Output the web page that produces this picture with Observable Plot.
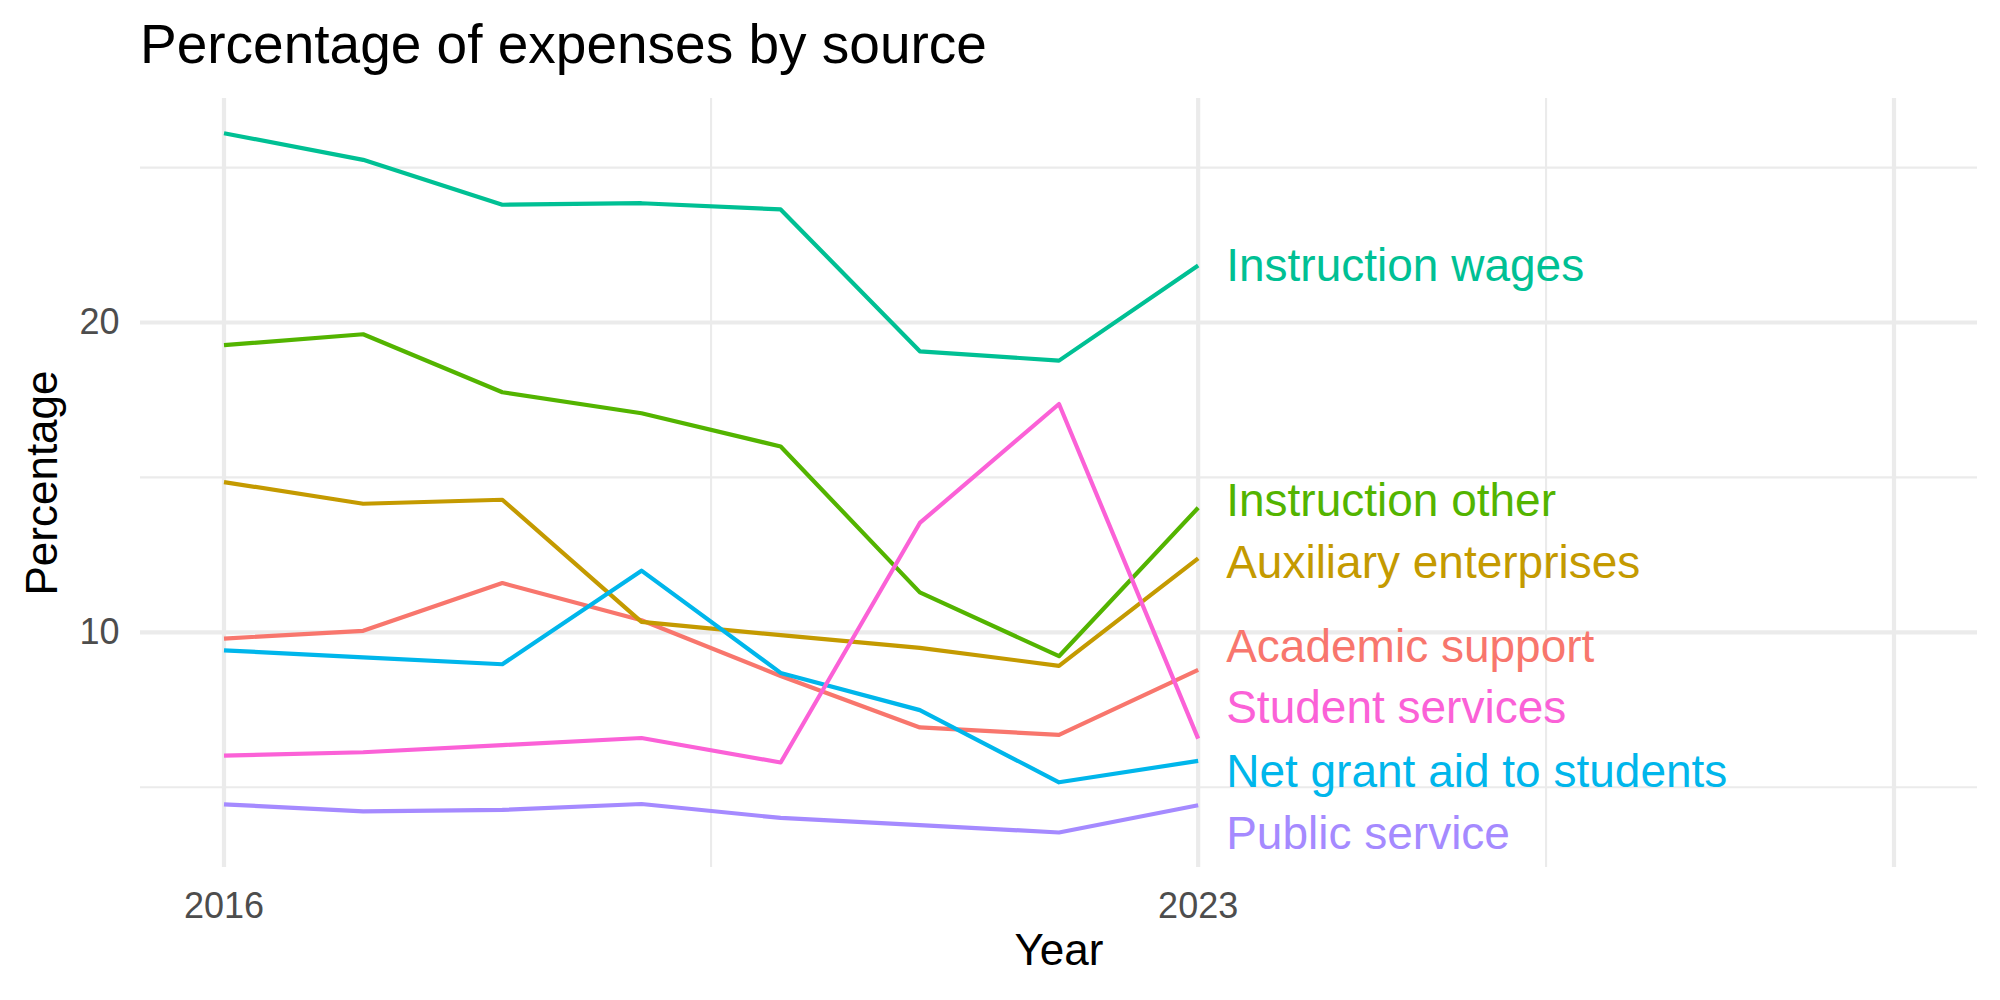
<!DOCTYPE html>
<html>
<head>
<meta charset="utf-8">
<script src="https://cdn.jsdelivr.net/npm/d3@7"></script>
<script src="https://cdn.jsdelivr.net/npm/@observablehq/plot@0.6"></script>
<style>
  html, body { margin: 0; padding: 0; background: #ffffff; }
  #wrap { width: 2000px; height: 1000px; position: relative; overflow: hidden; font-family: "Liberation Sans", Arial, sans-serif; }
  #title { position: absolute; left: 140px; top: 17px; font-size: 55px; line-height: 55px; color: #000; white-space: nowrap; }
  #chart { position: absolute; left: 0; top: 80px; }
</style>
</head>
<body>
<div id="wrap">
  <div id="title">Percentage of expenses by source</div>
  <div id="chart"></div>
</div>
<script>
// ---- data ----
const years = [2016, 2017, 2018, 2019, 2020, 2021, 2022, 2023];
const categories = ["Academic support", "Auxiliary enterprises", "Instruction other", "Instruction wages", "Net grant aid to students", "Public service", "Student services"];
const academicSupport      = [9.80, 10.05, 11.59, 10.39, 8.59, 6.93, 6.69, 8.79];
const auxiliaryEnterprises = [14.85, 14.15, 14.28, 10.34, 9.91, 9.50, 8.92, 12.39];
const instructionOther     = [19.27, 19.62, 17.75, 17.07, 16.00, 11.29, 9.23, 14.02];
const instructionWages     = [26.11, 25.25, 23.80, 23.85, 23.65, 19.07, 18.77, 21.84];
const netGrantAid          = [9.42, 9.19, 8.97, 11.99, 8.69, 7.49, 5.16, 5.85];
const publicService        = [4.45, 4.22, 4.27, 4.46, 4.01, 3.78, 3.54, 4.42];
const studentServices      = [6.02, 6.13, 6.36, 6.59, 5.80, 13.53, 17.37, 6.57];
// label positions (repelled) at the last year
const labelYear = 2023;
const labelY = [9.51, 12.22, 14.23, 21.80, 5.47, 3.47, 7.54];
const colors = ["#F8766D", "#C49A00", "#53B400", "#00C094", "#00B6EB", "#A58AFF", "#FB61D7"];
// axes
const xDomain = [2015.4, 2028.6];
const yDomain = [2.41, 27.23];
const xTicks = [2016, 2023];
const xMajorGrid = [2016, 2023, 2028];
const xMinorGrid = [2019.5, 2025.5];
const yTicks = [10, 20];
const yMinorGrid = [5, 15, 25];

// ---- build table ----
const seriesValues = [academicSupport, auxiliaryEnterprises, instructionOther, instructionWages, netGrantAid, publicService, studentServices];
const rows = [];
categories.forEach((c, k) => {
  years.forEach((yr, i) => rows.push({ year: yr, value: seriesValues[k][i], source: c }));
});
const labels = categories.map((c, k) => ({ source: c, year: labelYear, y: labelY[k] }));

const grid = "#EBEBEB";
const font = "'Liberation Sans', Arial, sans-serif";

const chart = Plot.plot({
  width: 2000,
  height: 920,
  marginTop: 18,
  marginBottom: 133,
  marginLeft: 140,
  marginRight: 23,
  style: { fontFamily: font, background: "#ffffff" },
  x: { domain: xDomain, axis: null },
  y: { domain: yDomain, axis: null },
  color: { domain: categories, range: colors },
  marks: [
    Plot.gridX(xMinorGrid, { stroke: grid, strokeOpacity: 1, strokeWidth: 2.1 }),
    Plot.gridY(yMinorGrid, { stroke: grid, strokeOpacity: 1, strokeWidth: 2.1 }),
    Plot.gridX(xMajorGrid, { stroke: grid, strokeOpacity: 1, strokeWidth: 4.2 }),
    Plot.gridY(yTicks, { stroke: grid, strokeOpacity: 1, strokeWidth: 4.2 }),
    Plot.axisX(xTicks, { tickSize: 0, tickPadding: 25, fontSize: 36, fill: "#4D4D4D", tickFormat: d => String(d), label: null }),
    Plot.axisY(yTicks, { tickSize: 0, tickPadding: 21, fontSize: 36, fill: "#4D4D4D", label: null }),
    Plot.line(rows, { x: "year", y: "value", z: "source", stroke: "source", strokeWidth: 4.2, strokeLinecap: "butt", strokeLinejoin: "round" }),
    Plot.text(labels, { x: "year", y: "y", text: "source", fill: "source", dx: 28, textAnchor: "start", lineAnchor: "middle", fontSize: 46 }),
    Plot.text(["Year"], { text: d => d, frameAnchor: "bottom", dy: 83, lineAnchor: "middle", fontSize: 44, fill: "#000" }),
    Plot.text(["Percentage"], { text: d => d, frameAnchor: "left", dx: -98, rotate: -90, textAnchor: "middle", lineAnchor: "middle", fontSize: 44, fill: "#000" })
  ]
});
document.getElementById("chart").appendChild(chart);
</script>
</body>
</html>
